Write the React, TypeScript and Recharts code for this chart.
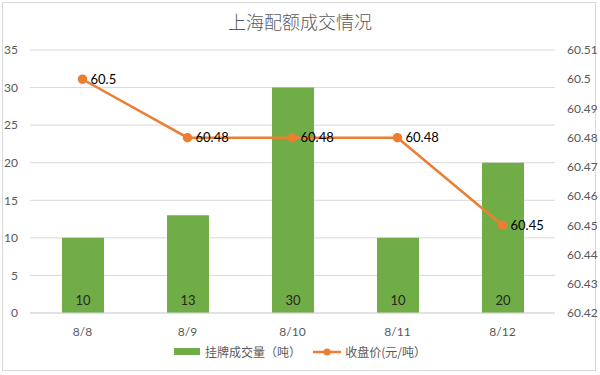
import React from 'react';
import {
  ComposedChart,
  Bar,
  Line,
  XAxis,
  YAxis,
  CartesianGrid,
  LabelList,
  Legend,
} from 'recharts';

const dates = ['8/8', '8/9', '8/10', '8/11', '8/12'];
const volume = [10, 13, 30, 10, 20];
const closePrice = [60.5, 60.48, 60.48, 60.48, 60.45];
const leftTicks = [0, 5, 10, 15, 20, 25, 30, 35];
const rightTicks = [60.42, 60.43, 60.44, 60.45, 60.46, 60.47, 60.48, 60.49, 60.5, 60.51];

const data = dates.map((d, i) => ({ date: d, volume: volume[i], price: closePrice[i] }));

const FONT = 'Lato, "Noto Sans CJK SC", sans-serif';
const GREEN = '#70AD47';
const ORANGE = '#ED7D31';

function LegendContent() {
  return (
    <div
      style={{
        display: 'flex',
        justifyContent: 'center',
        alignItems: 'center',
        fontSize: 12,
        color: '#595959',
        fontFamily: '"Noto Sans CJK SC", sans-serif',
      }}
    >
      <span style={{ display: 'inline-block', width: 26, height: 7, background: GREEN, marginRight: 5 }} />
      <span style={{ marginRight: 12 }}>挂牌成交量（吨）</span>
      <svg width={28} height={10} style={{ marginRight: 4 }}>
        <line x1={0} y1={5} x2={28} y2={5} stroke={ORANGE} strokeWidth={2.5} />
        <circle cx={14} cy={5} r={3.5} fill={ORANGE} />
      </svg>
      <span>收盘价(元/吨）</span>
    </div>
  );
}

export default function App() {
  return (
    <div style={{ position: 'absolute', left: 0, top: 0, width: 600, height: 375, background: '#fff' }}>
      <div
        style={{
          position: 'absolute',
          left: 2,
          top: 2,
          width: 594,
          height: 369,
          border: '1px solid #d9d9d9',
          boxSizing: 'border-box',
        }}
      />
      <div
        style={{
          position: 'absolute',
          top: 8,
          width: 600,
          textAlign: 'center',
          fontSize: 18,
          color: '#595959',
          fontFamily: '"Noto Sans CJK SC", sans-serif',
          fontWeight: 300,
        }}
      >
        上海配额成交情况
      </div>
      <ComposedChart
        width={600}
        height={375}
        data={data}
        margin={{ top: 50, right: 0, left: 0, bottom: 8 }}
        style={{ fontFamily: FONT }}
      >
        <CartesianGrid vertical={false} stroke="#d9d9d9" yAxisId="left" />
        <XAxis
          dataKey="date"
          height={30}
          tick={{ fill: '#595959', fontSize: 12 }}
          axisLine={{ stroke: '#d9d9d9' }}
          tickLine={false}
          tickMargin={8}
        />
        <YAxis
          yAxisId="left"
          domain={[0, 35]}
          ticks={leftTicks}
          width={30}
          axisLine={false}
          tickLine={false}
          tick={{ fill: '#595959', fontSize: 12 }}
          tickMargin={6}
        />
        <YAxis
          yAxisId="right"
          orientation="right"
          domain={[60.42, 60.51]}
          ticks={rightTicks}
          width={45}
          axisLine={false}
          tickLine={false}
          tick={{ fill: '#595959', fontSize: 12 }}
          tickMargin={6}
          allowDataOverflow
        />
        <Legend verticalAlign="bottom" height={24} content={<LegendContent />} />
        <Bar yAxisId="left" dataKey="volume" fill={GREEN} barSize={42} isAnimationActive={false}>
          <LabelList dataKey="volume" position="insideBottom" offset={8} fill="#262626" fontSize={13} />
        </Bar>
        <Line
          yAxisId="right"
          dataKey="price"
          stroke={ORANGE}
          strokeWidth={2.5}
          dot={{ r: 3.5, fill: ORANGE, stroke: ORANGE }}
          isAnimationActive={false}
        >
          <LabelList dataKey="price" position="right" offset={8} fill="#000" fontSize={13} />
        </Line>
      </ComposedChart>
    </div>
  );
}
